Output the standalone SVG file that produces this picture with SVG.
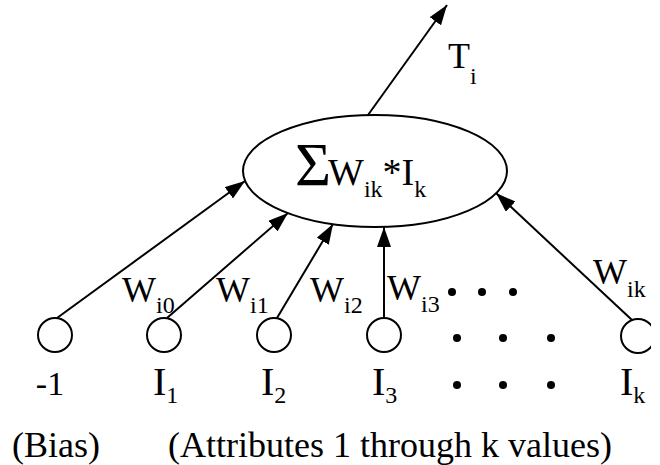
<svg xmlns="http://www.w3.org/2000/svg" width="660" height="465" viewBox="0 0 660 465">
<style>
text{font-family:"Liberation Serif","Times New Roman",serif;font-size:36px;fill:#000}
.sub{font-size:24px}
.lbl{font-size:40px}
.node{fill:#fff;stroke:#000;stroke-width:2}
.edge{stroke:#000;stroke-width:2;fill:none;marker-end:url(#ah)}
.dot{fill:#000}
</style>
<defs>
<marker id="ah" markerUnits="userSpaceOnUse" markerWidth="22" markerHeight="16" refX="20" refY="7" orient="auto">
<path d="M0,0 L20,7 L0,14 Z" fill="#000"/>
</marker>
<clipPath id="clipk"><rect x="0" y="0" width="651" height="465"/></clipPath>
</defs>
<rect width="660" height="465" fill="#fff"/>
<g id="connectors">
<line class="edge" x1="368" y1="115" x2="447" y2="5"/>
<line class="edge" x1="57" y1="318" x2="245" y2="181"/>
<line class="edge" x1="167" y1="318" x2="288" y2="213"/>
<line class="edge" x1="277" y1="318" x2="333" y2="224"/>
<line class="edge" x1="384" y1="318" x2="384" y2="227"/>
<line class="edge" x1="632" y1="320" x2="496" y2="193"/>
</g>
<g id="sum">
<ellipse class="node" cx="375" cy="171" rx="132" ry="56"/>
<text x="295" y="185" style="font-size:62px">Σ</text>
<text x="328" y="185" style="font-size:38px">W<tspan class="sub" dy="12">ik</tspan><tspan dy="-12">*I</tspan><tspan class="sub" dy="12">k</tspan></text>
</g>
<g id="output-label">
<text x="448" y="68">T<tspan class="sub" dy="16">i</tspan></text>
</g>
<g id="bias">
<circle class="node" cx="55" cy="335" r="17"/>
<text x="50" y="395" text-anchor="middle" style="font-size:34px">-1</text>
</g>
<g id="i1">
<circle class="node" cx="164" cy="335" r="17"/>
<text class="lbl" x="153" y="395">I<tspan class="sub" dy="8">1</tspan></text>
</g>
<g id="i2">
<circle class="node" cx="274" cy="335" r="17"/>
<text class="lbl" x="261" y="395">I<tspan class="sub" dy="8">2</tspan></text>
</g>
<g id="i3">
<circle class="node" cx="384" cy="335" r="17"/>
<text class="lbl" x="372" y="395">I<tspan class="sub" dy="8">3</tspan></text>
</g>
<g id="ik">
<circle class="node" cx="638" cy="336" r="17" clip-path="url(#clipk)"/>
<text class="lbl" x="620" y="395">I<tspan class="sub" dy="8">k</tspan></text>
</g>
<g id="weights">
<text x="122" y="302">W<tspan class="sub" dy="11">i0</tspan></text>
<text x="216" y="302">W<tspan class="sub" dy="11">i1</tspan></text>
<text x="310" y="302">W<tspan class="sub" dy="11">i2</tspan></text>
<text x="387" y="300">W<tspan class="sub" dy="12">i3</tspan></text>
<text x="593" y="284">W<tspan class="sub" dy="13">ik</tspan></text>
</g>
<g id="dots">
<circle class="dot" cx="452" cy="292" r="4"/>
<circle class="dot" cx="482" cy="292" r="4"/>
<circle class="dot" cx="513" cy="292" r="4"/>
<circle class="dot" cx="457" cy="338" r="4"/>
<circle class="dot" cx="503" cy="338" r="4"/>
<circle class="dot" cx="551" cy="338" r="4"/>
<circle class="dot" cx="457" cy="385" r="4"/>
<circle class="dot" cx="503" cy="385" r="4"/>
<circle class="dot" cx="551" cy="385" r="4"/>
</g>
<g id="captions">
<text x="12" y="457">(Bias)</text>
<text x="168" y="457">(Attributes 1 through k values)</text>
</g>
</svg>
